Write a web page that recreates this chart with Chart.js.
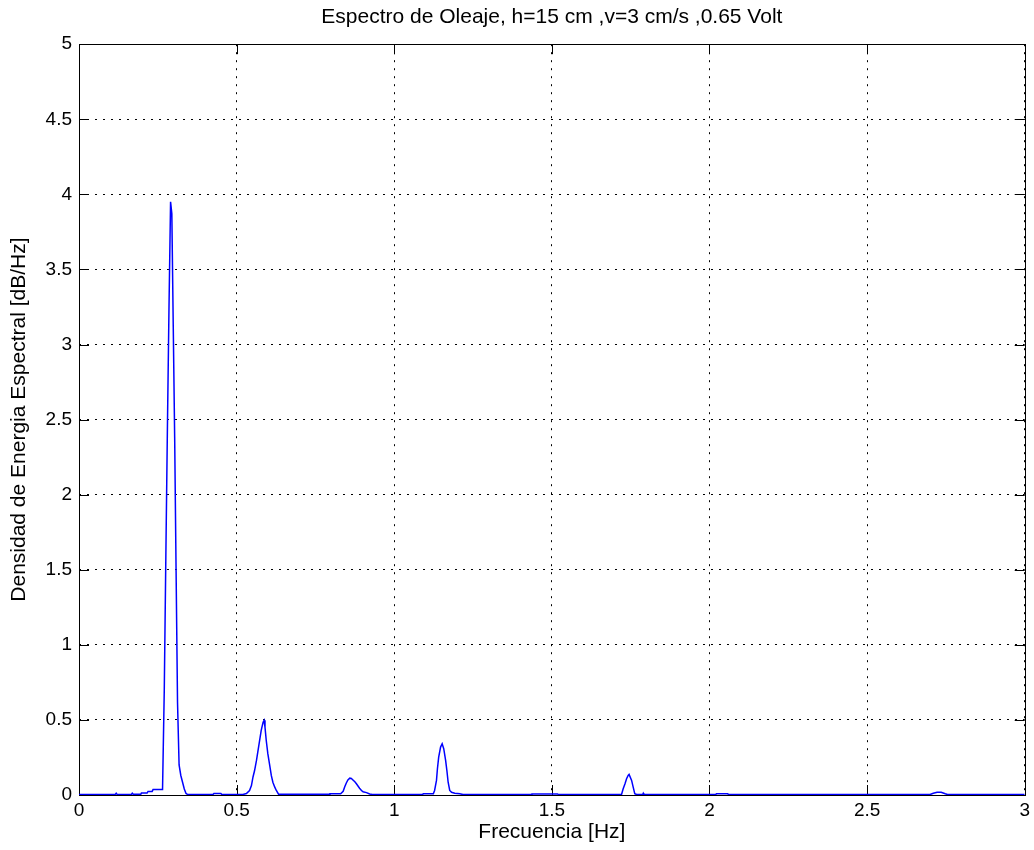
<!DOCTYPE html>
<html>
<head>
<meta charset="utf-8">
<script src="https://cdn.jsdelivr.net/npm/chart.js@4.4.1/dist/chart.umd.min.js"></script>
<style>
  html, body { margin: 0; padding: 0; background: #fff; }
  #wrap { width: 1034px; height: 850px; }
</style>
</head>
<body>
<div id="wrap"><canvas id="chart" width="1034" height="850"></canvas></div>
<script>
// textos
const titulo = 'Espectro de Oleaje, h=15 cm ,v=3 cm/s ,0.65 Volt';
const tituloX = 'Frecuencia [Hz]';
const tituloY = 'Densidad de Energia Espectral [dB/Hz]';

// ticks
const xTicks = [0, 0.5, 1, 1.5, 2, 2.5, 3];
const xTickLabels = ['0', '0.5', '1', '1.5', '2', '2.5', '3'];
const yTicks = [0, 0.5, 1, 1.5, 2, 2.5, 3, 3.5, 4, 4.5, 5];
const yTickLabels = ['0', '0.5', '1', '1.5', '2', '2.5', '3', '3.5', '4', '4.5', '5'];

// espectro (Hz, dB/Hz)
const frecuencia = [
  0.000, 0.115, 0.118, 0.121, 0.166, 0.169, 0.172, 0.196, 0.198, 0.216, 0.219, 0.232, 0.235,
  0.2650, 0.2705, 0.2755, 0.2805, 0.2855, 0.2905, 0.2945, 0.2990, 0.3035, 0.3080, 0.3125,
  0.3175, 0.3230, 0.3285, 0.3340, 0.3395, 0.345,
  0.425, 0.428, 0.450, 0.453,
  0.520, 0.531, 0.541, 0.547, 0.552, 0.557, 0.563, 0.568, 0.573, 0.578, 0.584, 0.587, 0.590,
  0.594, 0.599, 0.605, 0.610, 0.615, 0.621, 0.626, 0.633,
  0.794, 0.796, 0.830, 0.838, 0.843, 0.848, 0.853, 0.859, 0.864, 0.869, 0.875, 0.880, 0.885,
  0.890, 0.896, 0.901, 0.912, 0.922, 0.930,
  1.090, 1.092, 1.124, 1.128, 1.134, 1.137, 1.141, 1.147, 1.152, 1.157, 1.163, 1.167, 1.171,
  1.176, 1.182, 1.192, 1.208, 1.218,
  1.435, 1.437, 1.518, 1.521,
  1.721, 1.726, 1.732, 1.737, 1.742, 1.745, 1.753, 1.758, 1.763, 1.769,
  1.788, 1.790, 1.792,
  2.020, 2.022, 2.058, 2.060,
  2.700, 2.710, 2.722, 2.735, 2.748, 2.755, 3.000
];
const densidad = [
  0.004, 0.004, 0.012, 0.004, 0.004, 0.012, 0.005, 0.005, 0.013, 0.013, 0.024, 0.024, 0.036,
  0.036, 0.70, 1.59, 2.45, 3.25, 3.95, 3.87, 3.12, 2.38, 1.49, 0.62,
  0.20, 0.13, 0.085, 0.04, 0.01, 0.003,
  0.003, 0.01, 0.01, 0.003,
  0.003, 0.01, 0.03, 0.063, 0.12, 0.163, 0.23, 0.297, 0.363, 0.43, 0.485, 0.497, 0.452,
  0.363, 0.275, 0.197, 0.13, 0.085, 0.052, 0.03, 0.005,
  0.005, 0.008, 0.008, 0.025, 0.055, 0.08, 0.10, 0.112, 0.11, 0.10, 0.088, 0.075, 0.06,
  0.045, 0.03, 0.022, 0.016, 0.007, 0.003,
  0.003, 0.008, 0.008, 0.03, 0.097, 0.175, 0.252, 0.319, 0.341, 0.308, 0.23, 0.163, 0.085,
  0.03, 0.018, 0.012, 0.008, 0.003,
  0.003, 0.007, 0.007, 0.003,
  0.003, 0.04, 0.075, 0.108, 0.13, 0.137, 0.097, 0.052, 0.008, 0.003,
  0.003, 0.012, 0.003,
  0.003, 0.008, 0.008, 0.003,
  0.003, 0.012, 0.018, 0.018, 0.008, 0.003, 0.003
];

const fuente = 'Liberation Sans, Arial, Helvetica, sans-serif';

// marco negro + marcas hacia adentro (estilo matlab)
const marco = {
  id: 'marco',
  beforeDatasetsDraw(chart) {
    const { ctx, chartArea: a, scales: { x, y } } = chart;
    const len = 10;
    ctx.save();
    ctx.strokeStyle = '#000';
    ctx.lineWidth = 1;
    ctx.setLineDash([]);
    ctx.beginPath();
    x.ticks.forEach(t => {
      const px = Math.round(x.getPixelForValue(t.value)) + 0.5;
      ctx.moveTo(px, a.bottom); ctx.lineTo(px, a.bottom - len);
      ctx.moveTo(px, a.top); ctx.lineTo(px, a.top + len);
    });
    y.ticks.forEach(t => {
      const py = Math.round(y.getPixelForValue(t.value)) + 0.5;
      ctx.moveTo(a.left, py); ctx.lineTo(a.left + len, py);
      ctx.moveTo(a.right, py); ctx.lineTo(a.right - len, py);
    });
    ctx.stroke();
    ctx.strokeRect(Math.round(a.left) + 0.5, Math.round(a.top) + 0.5,
      Math.round(a.right - a.left), Math.round(a.bottom - a.top));
    ctx.restore();
  }
};

new Chart(document.getElementById('chart'), {
  type: 'scatter',
  data: {
    datasets: [{
      data: frecuencia.map((f, i) => ({ x: f, y: densidad[i] })),
      showLine: true,
      borderColor: '#0000ff',
      borderWidth: 1.5,
      pointRadius: 0,
      fill: false,
      tension: 0
    }]
  },
  options: {
    responsive: false,
    animation: false,
    devicePixelRatio: 1,
    layout: { padding: { left: 0, right: 8, top: 0, bottom: 0 } },
    plugins: {
      legend: { display: false },
      tooltip: { enabled: false },
      title: {
        display: true,
        fullSize: false,
        text: titulo,
        color: '#000',
        font: { family: fuente, size: 21, weight: 'normal' },
        padding: { top: 5, bottom: 14 }
      }
    },
    scales: {
      x: {
        type: 'linear',
        min: 0, max: 3,
        afterBuildTicks: s => { s.ticks = xTicks.map(v => ({ value: v })); },
        afterFit: s => { s.height = 55; },
        ticks: {
          color: '#000',
          padding: 4,
          maxRotation: 0,
          font: { family: fuente, size: 19 },
          callback: (v) => xTickLabels[xTicks.indexOf(v)]
        },
        grid: { color: '#000', lineWidth: 1, drawTicks: false },
        border: { display: false, dash: [2, 6] },
        title: {
          display: true,
          text: tituloX,
          color: '#000',
          font: { family: fuente, size: 21 },
          padding: { top: 0, bottom: 5 }
        }
      },
      y: {
        type: 'linear',
        min: 0, max: 5,
        afterBuildTicks: s => { s.ticks = yTicks.map(v => ({ value: v })); },
        afterFit: s => { s.width = 79; },
        ticks: {
          color: '#000',
          padding: 7,
          font: { family: fuente, size: 19 },
          callback: (v) => yTickLabels[yTicks.indexOf(v)]
        },
        grid: { color: '#000', lineWidth: 1, drawTicks: false },
        border: { display: false, dash: [2, 6] },
        title: {
          display: true,
          text: tituloY,
          color: '#000',
          font: { family: fuente, size: 21 },
          padding: { top: 7, bottom: 0 }
        }
      }
    }
  },
  plugins: [marco]
});
</script>
</body>
</html>
